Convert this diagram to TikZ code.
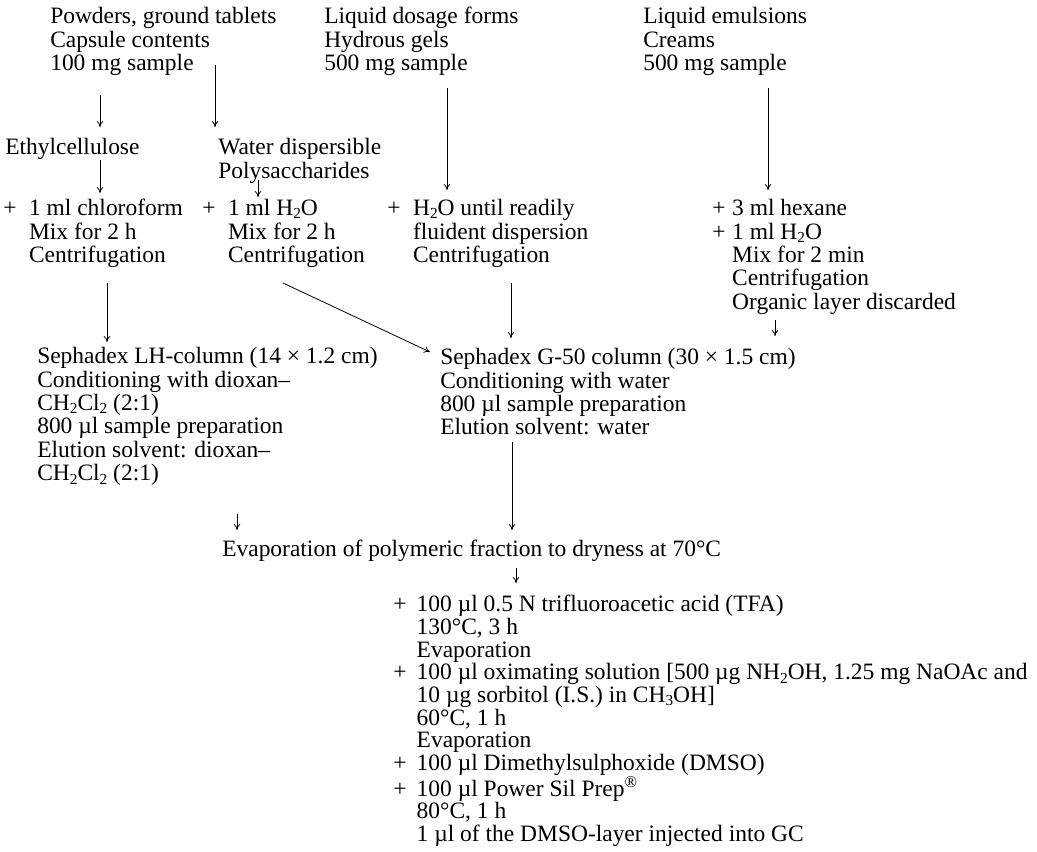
\documentclass[tikz,border=0pt]{standalone}
\usepackage{fontspec}
\setmainfont{Liberation Serif}
\usetikzlibrary{arrows.meta}
\newcommand{\pl}[1][1em]{\makebox[#1][l]{+}}
\newcommand{\nopl}[1][1em]{\hspace*{#1}}
\newcommand{\sub}[1]{\raisebox{-0.14em}{\fontsize{11.5}{11.5}\selectfont #1}}
\tikzset{
  txt/.style={anchor=north west, inner sep=0pt, align=left, font=\fontsize{17.6}{17.6}\selectfont},
  flow/.style={-{To[length=4.5pt,width=5pt]}, line width=0.6pt}
}
\begin{document}
\begin{tikzpicture}[x=0.75pt, y=-0.75pt]
\useasboundingbox (0,0) rectangle (1037,851);

% sample types
\node[txt] (powder) at (50,7) {Powders, ground tablets\\Capsule contents\\100 mg sample};
\node[txt] (liquid) at (324,7) {Liquid dosage forms\\Hydrous gels\\500 mg sample};
\node[txt] (emuls) at (643,7) {Liquid emulsions\\Creams\\500 mg sample};

\node[txt] (ethyl) at (5,138) {Ethylcellulose};
\node[txt] (polysac) at (218,138) {Water dispersible\\Polysaccharides};

% pretreatment
\node[txt] (chloro) at (3,199) {\pl[1.1em]1 ml chloroform\\\nopl[1.1em]Mix for 2 h\\\nopl[1.1em]Centrifugation};
\node[txt] (water) at (202,199) {\pl[1.1em]1 ml H\sub{2}O\\\nopl[1.1em]Mix for 2 h\\\nopl[1.1em]Centrifugation};
\node[txt] (disp) at (387,199) {\pl[1.1em]H\sub{2}O until readily\\\nopl[1.1em]fluident dispersion\\\nopl[1.1em]Centrifugation};
\node[txt] (hexane) at (712,199) {\pl[0.85em]3 ml hexane\\\pl[0.85em]1 ml H\sub{2}O\\\nopl[0.85em]Mix for 2 min\\\nopl[0.85em]Centrifugation\\\nopl[0.85em]Organic layer discarded};

% columns
\node[txt] (lhcol) at (37,347) {Sephadex LH-column (14 × 1.2 cm)\\Conditioning with dioxan–\\CH\sub{2}Cl\sub{2} (2:1)\\800 µl sample preparation\\Elution solvent: dioxan–\\CH\sub{2}Cl\sub{2} (2:1)};
\node[txt] (gcol) at (440,348) {Sephadex G-50 column (30 × 1.5 cm)\\Conditioning with water\\800 µl sample preparation\\Elution solvent: water};

% evaporation and derivatisation
\node[txt] (evap) at (222,540) {Evaporation of polymeric fraction to dryness at 70°C};
\node[txt, font=\fontsize{17.6}{17.0}\selectfont] (deriv) at (393,595) {\pl 100 µl 0.5 N trifluoroacetic acid (TFA)\\\nopl 130°C, 3 h\\\nopl Evaporation\\\pl 100 µl oximating solution [500 µg NH\sub{2}OH, 1.25 mg NaOAc and\\\nopl 10 µg sorbitol (I.S.) in CH\sub{3}OH]\\\nopl 60°C, 1 h\\\nopl Evaporation\\\pl 100 µl Dimethylsulphoxide (DMSO)\\\pl 100 µl Power Sil Prep\textsuperscript{®}\\\nopl 80°C, 1 h\\\nopl 1 µl of the DMSO-layer injected into GC};

% arrows
\draw[flow] ([shift={(50,88)}]powder.north west) -- ([shift={(95,-11)}]ethyl.north west);
\draw[flow] ([shift={(165,58)}]powder.north west) -- ([shift={(-3,-11)}]polysac.north west);
\draw[flow] ([shift={(123,81)}]liquid.north west) -- ([shift={(60,-9)}]disp.north west);
\draw[flow] ([shift={(125,81)}]emuls.north west) -- ([shift={(56,-9)}]hexane.north west);
\draw[flow] ([shift={(95,22)}]ethyl.north west) -- ([shift={(97,-6)}]chloro.north west);
\draw[flow] ([shift={(40,42)}]polysac.north west) -- ([shift={(56,-2)}]water.north west);
\draw[flow] ([shift={(104,84)}]chloro.north west) -- ([shift={(70,-5)}]lhcol.north west);
\draw[flow] ([shift={(81,84)}]water.north west) -- ([shift={(-10,4)}]gcol.north west);
\draw[flow] ([shift={(124,84)}]disp.north west) -- ([shift={(71,-10)}]gcol.north west);
\draw[flow] ([shift={(63,121)}]hexane.north west) -- ([shift={(63,137)}]hexane.north west);
\draw[flow] ([shift={(200,167)}]lhcol.north west) -- ([shift={(15,-10)}]evap.north west);
\draw[flow] ([shift={(72,94)}]gcol.north west) -- ([shift={(290,-10)}]evap.north west);
\draw[flow] ([shift={(294,28)}]evap.north west) -- ([shift={(123,-12)}]deriv.north west);
\end{tikzpicture}
\end{document}
